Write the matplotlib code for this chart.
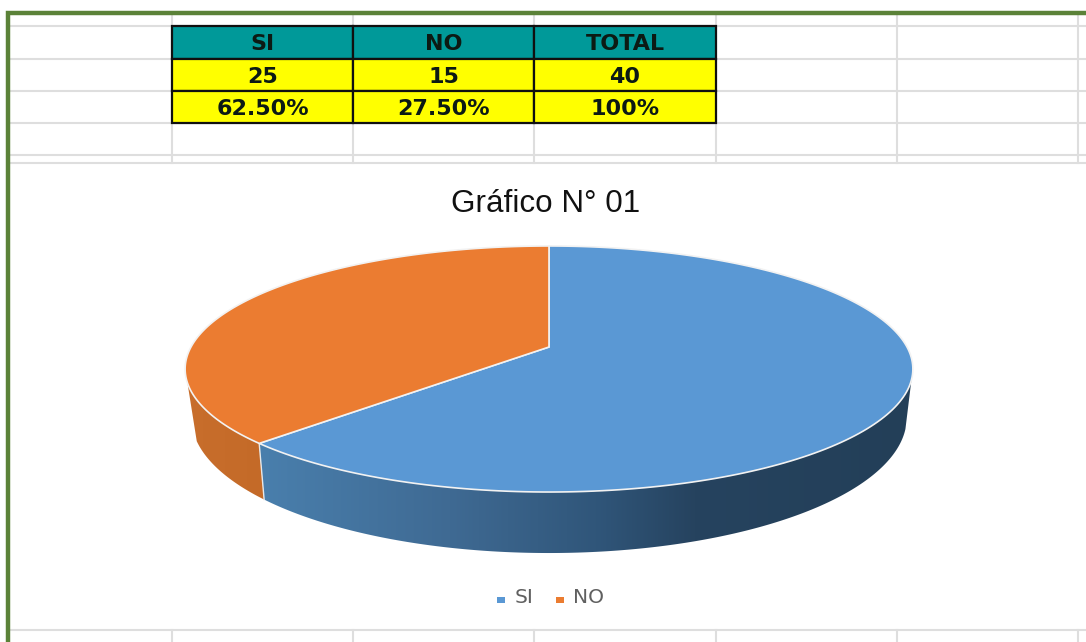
import matplotlib.pyplot as plt
import numpy as np
from matplotlib.colors import LinearSegmentedColormap
from matplotlib.patches import Polygon, Rectangle

# table data
table_head = ['SI', 'NO', 'TOTAL']
table_counts = ['25', '15', '40']
table_pcts = ['62.50%', '27.50%', '100%']

# pie data
labels = ['SI', 'NO']
values = [25, 15]
colors = ['#5A98D4', '#EB7C31']

W, H = 1086, 642
fig = plt.figure(figsize=(W / 100, H / 100), dpi=100)
ax = fig.add_axes([0, 0, 1, 1])
ax.set_xlim(0, W)
ax.set_ylim(H, 0)
ax.axis('off')

# spreadsheet grid behind the table
col_x = [172, 353, 534, 716, 897, 1078]
row_y = [26, 59, 91, 123, 155, 163]
for y in row_y:
    ax.plot([9, W], [y, y], color='#dedede', lw=1.5, zorder=1)
for x in col_x:
    ax.plot([x, x], [14, 163], color='#dedede', lw=1.5, zorder=1)
    ax.plot([x, x], [630, H], color='#dedede', lw=1.5, zorder=1)
ax.plot([9, W], [630, 630], color='#dedede', lw=1.5, zorder=1)

# table cells
rows = [table_head, table_counts, table_pcts]
for r, row in enumerate(rows):
    fill = '#009999' if r == 0 else '#ffff00'
    for c, txt in enumerate(row):
        ax.add_patch(Rectangle((col_x[c], row_y[r]), col_x[c + 1] - col_x[c], row_y[r + 1] - row_y[r],
                               fc=fill, ec='#101010', lw=1.6, zorder=2))
        ax.text((col_x[c] + col_x[c + 1]) / 2, (row_y[r] + row_y[r + 1]) / 2 + 2, txt,
                ha='center', va='center', fontsize=16, fontweight='bold',
                family='DejaVu Sans', color='#0c1a14', zorder=3)

# green frame
ax.plot([7.5, 7.5, W], [H, 12.5, 12.5], color='#5b8238', lw=3.2, zorder=5, solid_joinstyle='miter')

ax.text(545.5, 204.5, 'Gráfico N° 01', ha='center', va='center', fontsize=22.6,
        family='Liberation Sans', color='#111111')


# perspective view of the pie disc, theta runs clockwise from the top
def top_rim(theta):
    u, v = np.sin(theta), np.cos(theta)
    d = 1 + 0.1789 * v
    return 549 + 358 * u / d, (347 - 57 * v) / d


def low_rim(theta):
    x, y = top_rim(theta)
    return 549 + 0.983 * (x - 549), 553 + 1.10 * (y - 492)


side_cmaps = [
    LinearSegmentedColormap.from_list('si', [(0, '#4a80ae'), (0.3, '#3f6a93'), (0.52, '#30567a'),
                                             (0.67, '#26435f'), (1, '#233f58')]),
    LinearSegmentedColormap.from_list('no', ['#c86e2c', '#c46a28']),
]
side_ext = [(250, 915), (180, 270)]

fracs = np.cumsum([0] + values) / sum(values)
grad = np.linspace(0, 1, 256).reshape(1, -1)

# visible part of the side wall: the top arc and the lower arc stop at different
# angles so the straight piece between them is the silhouette of the disc
top_span = [(np.radians(100), fracs[1] * 2 * np.pi), (fracs[1] * 2 * np.pi, np.radians(260))]
low_span = [(np.radians(105), fracs[1] * 2 * np.pi), (fracs[1] * 2 * np.pi, np.radians(250))]

for i in [1, 0]:
    tx, ty = top_rim(np.linspace(*top_span[i], 200))
    bx, by = low_rim(np.linspace(*low_span[i], 200))
    side = Polygon(np.r_[np.c_[tx, ty], np.c_[bx, by][::-1]], closed=True, fc='none', ec='none',
                   transform=ax.transData)
    ax.add_patch(side)
    im = ax.imshow(grad, cmap=side_cmaps[i], aspect='auto', zorder=3,
                   extent=[side_ext[i][0], side_ext[i][1], 560, 240])
    im.set_clip_path(side)
ax.set_xlim(0, W)
ax.set_ylim(H, 0)

# seam between the two side walls
sx, sy = top_rim(fracs[1] * 2 * np.pi)
ex, ey = low_rim(fracs[1] * 2 * np.pi)
ax.plot([sx, ex], [sy, ey], color='#e8e8e8', lw=1, zorder=3.5)

for i in range(len(values)):
    th = np.linspace(fracs[i], fracs[i + 1], 200) * 2 * np.pi
    tx, ty = top_rim(th)
    ax.add_patch(Polygon(np.r_[[[549, 347]], np.c_[tx, ty]], closed=True, fc=colors[i], ec='#f2f2f2',
                         lw=1.2, zorder=4))

# legend
leg_x = [(497, 515), (556, 573)]
for (sq, tx_), lab, col in zip(leg_x, labels, colors):
    ax.add_patch(Rectangle((sq, 597), 8, 6, fc=col, ec='none'))
    ax.text(tx_, 597.5, lab, ha='left', va='center', fontsize=14.5, family='DejaVu Sans', color='#606060')

fig.savefig('out.png', dpi=100)
